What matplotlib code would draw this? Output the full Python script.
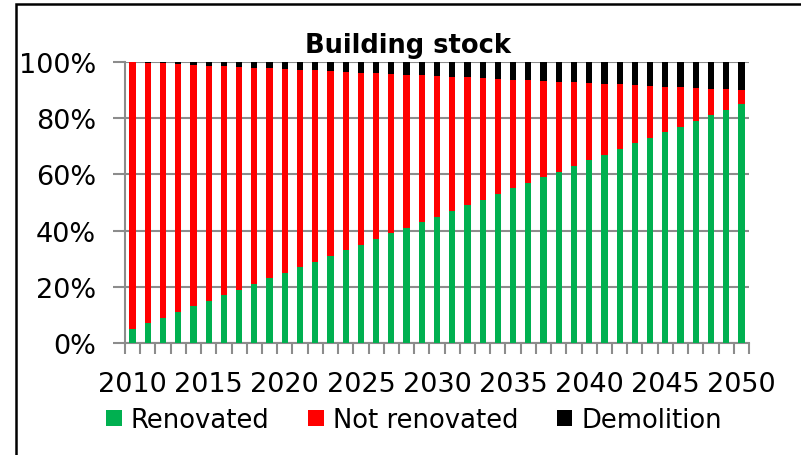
import matplotlib
matplotlib.use('Agg')
import matplotlib.pyplot as plt
from matplotlib.patches import Rectangle, Patch
import numpy as np

# Shares of the building stock (%), 2010-2050
years = list(range(2010, 2051))
renovated = [5, 7, 9, 11, 13, 15, 17, 19, 21, 23,
             25, 27, 29, 31, 33, 35, 37, 39, 41, 43,
             45, 47, 49, 51, 53, 55, 57, 59, 61, 63,
             65, 67, 69, 71, 73, 75, 77, 79, 81, 83, 85]
demolition = [0.0, 0.25, 0.5, 0.75, 1.0, 1.25, 1.5, 1.75, 2.0, 2.25,
              2.5, 2.75, 3.0, 3.25, 3.5, 3.75, 4.0, 4.25, 4.5, 4.75,
              5.0, 5.25, 5.5, 5.75, 6.0, 6.25, 6.5, 6.75, 7.0, 7.25,
              7.5, 7.75, 8.0, 8.25, 8.5, 8.75, 9.0, 9.25, 9.5, 9.75, 10.0]
not_renovated = [100 - r - d for r, d in zip(renovated, demolition)]

labels = ['Renovated', 'Not renovated', 'Demolition']
colors = ['#00B050', '#FF0000', '#000000']
grid_col = '#8c8c8c'

plt.rcParams.update({'font.family': 'DejaVu Sans', 'font.size': 19.5})
fig = plt.figure(figsize=(8.01, 4.56), dpi=100)
ax = fig.add_axes([125 / 801, 1 - 344 / 456, 624 / 801, 281 / 456])

x = np.arange(len(years))
w = 0.41
ax.bar(x, renovated, w, color=colors[0], zorder=3)
ax.bar(x, not_renovated, w, bottom=renovated, color=colors[1], zorder=3)
bottom2 = [r + n for r, n in zip(renovated, not_renovated)]
ax.bar(x, demolition, w, bottom=bottom2, color=colors[2], zorder=3)

ax.set_xlim(-0.5, len(years) - 0.5)
ax.set_ylim(0, 100)
ax.set_yticks(range(0, 101, 20))
ax.set_yticklabels([f'{v}%' for v in range(0, 101, 20)])
ax.yaxis.grid(True, color=grid_col, linewidth=1.5, zorder=0)

# tick marks between categories, labels every 5 years
ax.set_xticks(np.arange(-0.5, len(years), 1))
ax.set_xticklabels([])
ax.set_xticks(x[::5], minor=True)
ax.set_xticklabels([str(y) for y in years[::5]], minor=True)
ax.tick_params(axis='x', which='major', length=8, width=1.5, color=grid_col, direction='out')
ax.tick_params(axis='x', which='minor', length=0, pad=20)
ax.tick_params(axis='y', length=9, width=1.5, color=grid_col, pad=12)

for s in ['top', 'right']:
    ax.spines[s].set_visible(False)
for s in ['left', 'bottom']:
    ax.spines[s].set_color(grid_col)
    ax.spines[s].set_linewidth(1.5)

fig.text(408 / 801, 1 - 53 / 456, 'Building stock', ha='center', va='baseline',
         fontsize=18.5, fontweight='bold')

handles = [Patch(facecolor=c, edgecolor='none') for c in colors]
fig.legend(handles, labels, loc='center', bbox_to_anchor=(414 / 801, 1 - 421 / 456),
           ncol=3, frameon=False, handlelength=0.6, handleheight=0.6,
           handletextpad=0.35, columnspacing=1.5, fontsize=18.6)

# outer chart frame
fig.patches.append(Rectangle((16 / 801, -0.1), 2, 1 - 5 / 456 + 0.1, transform=fig.transFigure,
                             fill=False, edgecolor='black', linewidth=1.8))

fig.savefig('out.png', dpi=100)
